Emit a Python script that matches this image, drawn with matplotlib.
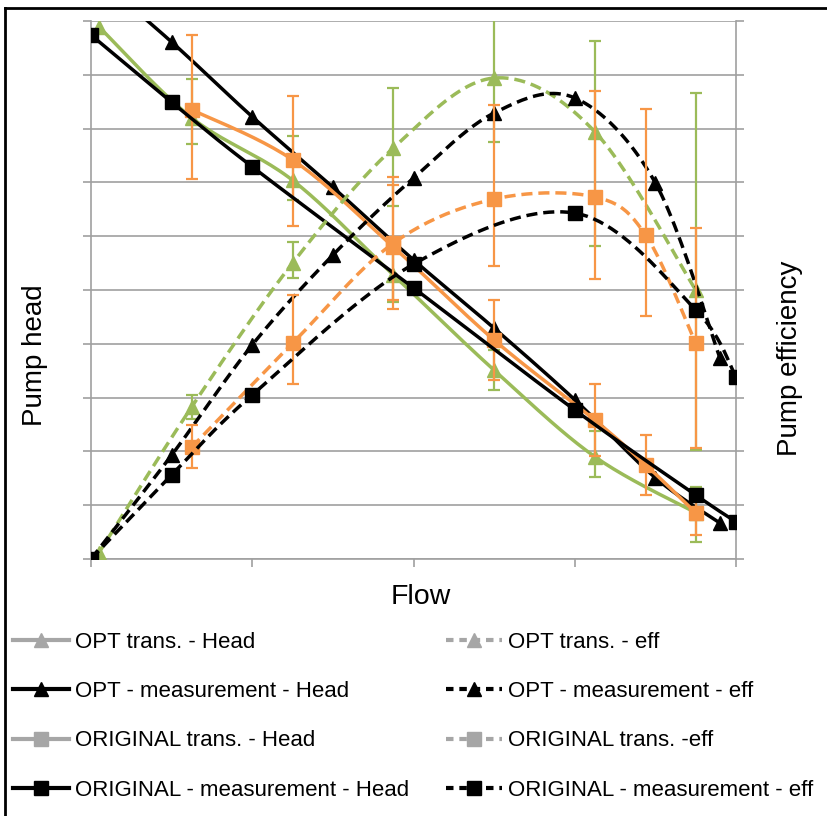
import numpy as np
import matplotlib
matplotlib.use("Agg")
import matplotlib.pyplot as plt
from matplotlib.lines import Line2D

# ---------------- data ----------------
# OPT trans. (green, triangles)
opt_tr_x = [0.05, 0.625, 1.25, 1.875, 2.5, 3.125, 3.75]
opt_tr_head = [9.89, 8.20, 7.04, 5.28, 3.51, 1.90, 0.86]
opt_tr_head_hi = [8.92, 7.86, 5.74, 3.88, 2.38, 1.34]   # error bars for points 1..6
opt_tr_head_lo = [7.71, 6.67, 4.78, 3.14, 1.52, 0.32]
opt_tr_eff = [0.12, 2.83, 5.50, 7.64, 8.94, 7.94, 5.00]
opt_tr_eff_hi = [3.05, 5.89, 8.75, 10.13, 9.63, 8.66]
opt_tr_eff_lo = [2.60, 5.22, 6.56, 7.75, 5.82, 2.03]

# OPT - measurement (black, triangles)
opt_me_x = [0.0, 0.5, 1.0, 1.5, 2.0, 2.5, 3.0, 3.5, 3.9]
opt_me_head = [10.9, 9.61, 8.22, 6.91, 5.56, 4.29, 2.96, 1.51, 0.67]
opt_me_eff = [0.0, 1.93, 3.98, 5.65, 7.08, 8.29, 8.57, 6.99, 3.74]

# ORIGINAL trans. (orange, squares)
ori_tr_x = [0.625, 1.25, 1.875, 2.5, 3.125, 3.44, 3.75]
ori_tr_head = [8.35, 7.42, 5.80, 4.07, 2.58, 1.75, 0.86]
ori_tr_head_hi = [9.74, 8.61, 6.95, 4.81, 3.25, 2.30, 1.26]
ori_tr_head_lo = [7.06, 6.19, 4.81, 3.33, 1.91, 1.19, 0.45]
ori_tr_eff = [2.08, 4.01, 5.87, 6.69, 6.73, 6.02, 4.01]
ori_tr_eff_hi = [2.49, 4.91, 7.10, 8.44, 8.70, 8.36, 6.15]
ori_tr_eff_lo = [1.69, 3.25, 4.65, 5.45, 5.20, 4.52, 2.06]

# ORIGINAL - measurement (black, squares)
ori_me_x = [0.0, 0.5, 1.0, 2.0, 3.0, 3.75, 4.0]
ori_me_head = [9.74, 8.49, 7.29, 5.04, 2.77, 1.19, 0.69]
ori_me_eff = [0.0, 1.56, 3.05, 5.48, 6.43, 4.63, 3.38]

labels = ["OPT trans. - Head", "OPT - measurement - Head",
          "ORIGINAL trans. - Head", "ORIGINAL - measurement - Head",
          "OPT trans. - eff", "OPT - measurement - eff",
          "ORIGINAL trans. -eff", "ORIGINAL - measurement - eff"]

GREEN = "#9BBB59"
ORANGE = "#F79646"
BLACK = "#000000"
LGRAY = "#A6A6A6"
GRID = "#A0A0A0"


def smooth(x, y, n=24):
    """Excel-like smoothed line (Catmull-Rom Bezier) through the points."""
    p = np.column_stack([np.asarray(x, float), np.asarray(y, float)])
    out = [p[0]]
    t = np.linspace(0, 1, n)[1:, None]
    for i in range(len(p) - 1):
        p0 = p[i - 1] if i > 0 else p[i]
        p1, p2 = p[i], p[i + 1]
        p3 = p[i + 2] if i + 2 < len(p) else p[i + 1]
        c1 = p1 + (p2 - p0) / 6.0
        c2 = p2 - (p3 - p1) / 6.0
        seg = ((1 - t) ** 3) * p1 + 3 * ((1 - t) ** 2) * t * c1 + 3 * (1 - t) * t ** 2 * c2 + t ** 3 * p2
        out.extend(seg)
    out = np.array(out)
    return out[:, 0], out[:, 1]


plt.rcParams["font.family"] = ["Liberation Sans", "DejaVu Sans"]

W, H = 828, 816
fig = plt.figure(figsize=(W / 100, H / 100), dpi=100)
ax = fig.add_axes([91 / W, 1 - 559 / H, (736 - 91) / W, (559 - 21) / H])
ax.set_xlim(0, 4)
ax.set_ylim(0, 10)
ax.set_yticks(np.arange(0, 11, 1))
ax.set_xticks(np.arange(0, 5, 1))
ax.set_yticklabels([])
ax.set_xticklabels([])
ax.grid(axis="y", color=GRID, lw=1.2)
ax.set_axisbelow(True)
for s in ["left", "bottom", "right"]:
    ax.spines[s].set_color(GRID)
    ax.spines[s].set_linewidth(1.2)
ax.spines["top"].set_visible(False)
ax.tick_params(axis="both", which="both", direction="out", length=6, width=1.2,
               color=GRID, left=True, right=True, bottom=True)

LW = 2.5
DASH = (3.2, 1.7)
EB = dict(fmt="none", elinewidth=1.6, capsize=4.5, capthick=1.6)


def draw(x, y, color, marker, ms, dashed=False, z=3):
    sx, sy = smooth(x, y)
    kw = dict(color=color, lw=LW, zorder=z, solid_capstyle="butt")
    if dashed:
        ax.plot(sx, sy, ls=(0, DASH), dash_capstyle="butt", **kw)
    else:
        ax.plot(sx, sy, **kw)
    ax.plot(x, y, ls="none", marker=marker, ms=ms, color=color, mec=color, zorder=z + 0.5)


# Head series
draw(opt_tr_x, opt_tr_head, GREEN, "^", 10, z=3)
ax.errorbar(opt_tr_x[1:], opt_tr_head[1:],
            yerr=[np.array(opt_tr_head[1:]) - np.array(opt_tr_head_lo),
                  np.array(opt_tr_head_hi) - np.array(opt_tr_head[1:])],
            ecolor=GREEN, zorder=3.2, **EB)
draw(opt_me_x, opt_me_head, BLACK, "^", 10.5, z=4)
draw(ori_tr_x, ori_tr_head, ORANGE, "s", 9.5, z=5)
ax.errorbar(ori_tr_x, ori_tr_head,
            yerr=[np.array(ori_tr_head) - np.array(ori_tr_head_lo),
                  np.array(ori_tr_head_hi) - np.array(ori_tr_head)],
            ecolor=ORANGE, zorder=5.2, **EB)
draw(ori_me_x, ori_me_head, BLACK, "s", 10, z=6)

# Efficiency series
draw(opt_tr_x, opt_tr_eff, GREEN, "^", 10, dashed=True, z=7)
ax.errorbar(opt_tr_x[1:], opt_tr_eff[1:],
            yerr=[np.array(opt_tr_eff[1:]) - np.array(opt_tr_eff_lo),
                  np.array(opt_tr_eff_hi) - np.array(opt_tr_eff[1:])],
            ecolor=GREEN, zorder=7.2, **EB)
draw(opt_me_x, opt_me_eff, BLACK, "^", 10.5, dashed=True, z=8)
draw(ori_tr_x, ori_tr_eff, ORANGE, "s", 9.5, dashed=True, z=9)
ax.errorbar(ori_tr_x, ori_tr_eff,
            yerr=[np.array(ori_tr_eff) - np.array(ori_tr_eff_lo),
                  np.array(ori_tr_eff_hi) - np.array(ori_tr_eff)],
            ecolor=ORANGE, zorder=9.2, **EB)
draw(ori_me_x, ori_me_eff, BLACK, "s", 10, dashed=True, z=10)

# Axis titles
fig.text(421 / W, 1 - 597 / H, "Flow", ha="center", va="center", fontsize=20.5)
fig.text(35 / W, 1 - 355 / H, "Pump head", ha="center", va="center", fontsize=20, rotation=90)
fig.text(790 / W, 1 - 358 / H, "Pump efficiency", ha="center", va="center", fontsize=20, rotation=90)

# Legend (two columns placed explicitly)
styles = [(LGRAY, "^", "-"), (BLACK, "^", "-"), (LGRAY, "s", "-"), (BLACK, "s", "-"),
          (LGRAY, "^", "--"), (BLACK, "^", "--"), (LGRAY, "s", "--"), (BLACK, "s", "--")]
handles = []
for c, m, ls in styles:
    handles.append(Line2D([0], [0], color=c, lw=3, marker=m, ms=10, mec=c,
                          ls=(0, (1.8, 1.4)) if ls == "--" else "-"))
legkw = dict(loc="upper left", frameon=False,
             prop={"family": ["Liberation Sans", "DejaVu Sans"], "size": 16},
             handlelength=2.5, handletextpad=0.3, labelspacing=1.27,
             borderpad=0, borderaxespad=0)
fig.legend(handles[:4], labels[:4], bbox_to_anchor=(13 / W, 1 - 632 / H), **legkw)
fig.legend(handles[4:], labels[4:], bbox_to_anchor=(446 / W, 1 - 632 / H), **legkw)

# Outer frame (left and top edges visible)
fig.add_artist(Line2D([5 / W, 5 / W], [0, 1 - 8 / H], transform=fig.transFigure, color="black", lw=2))
fig.add_artist(Line2D([5 / W, 1], [1 - 8 / H, 1 - 8 / H], transform=fig.transFigure, color="black", lw=2))

fig.savefig("out.png", dpi=100)
